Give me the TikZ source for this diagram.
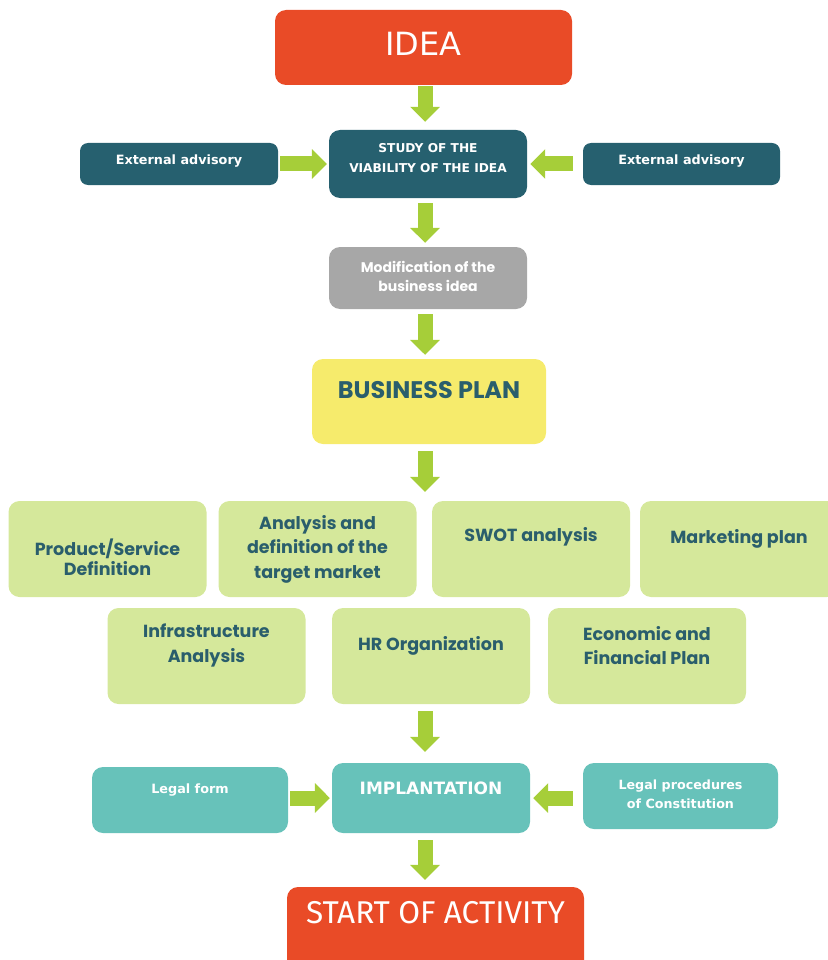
\documentclass[tikz,border=0pt]{standalone}
\usepackage{fontspec}
\setmainfont{Fira Sans}
\newfontfamily\rfont{Poppins}
\newfontfamily\dfont{DejaVu Sans}
\usetikzlibrary{arrows.meta}
\definecolor{cRed}{HTML}{E94B27}
\definecolor{cDark}{HTML}{26606F}
\definecolor{cGray}{HTML}{A7A7A7}
\definecolor{cYellow}{HTML}{F6EB6C}
\definecolor{cGreen}{HTML}{D5E89B}
\definecolor{cTeal}{HTML}{67C2BA}
\definecolor{cArrow}{HTML}{A6CE39}
\definecolor{cText}{HTML}{2A5E6C}
\begin{document}
\begin{tikzpicture}[x=1pt,y=-1pt]
\useasboundingbox (0,0) rectangle (827,960);
\tikzset{
  box/.style={rounded corners=11pt, inner sep=0pt},
  tx/.style={align=center, inner sep=0pt},
  wtxt/.style={tx, text=white, font=\dfont\bfseries\fontsize{12.8}{20}\selectfont},
  gtxt/.style={tx, text=cText, font=\rfont\bfseries\fontsize{17.5}{24.5}\selectfont},
  gbox/.style={box, fill=cGreen, minimum width=198pt, minimum height=96pt},
  barrow/.style={draw=cArrow, line width=15pt, -{Triangle[width=29pt,length=15pt]}, shorten <=5pt, shorten >=6pt},
}
\coordinate (ax) at (425,0);
% top
\node[box, fill=cRed, minimum width=297pt, minimum height=75pt,
  label={[tx, text=white, font=\dfont\fontsize{32}{34}\selectfont, yshift=3.5pt]center:IDEA}] (idea) at (423.5,47.5) {};
\node[box, fill=cDark, minimum width=198pt, minimum height=68pt,
  label={[wtxt, font=\dfont\bfseries\fontsize{12.2}{20}\selectfont, yshift=6pt]center:{STUDY OF THE\\VIABILITY OF THE IDEA}}] (study) at (428,164) {};
\node[box, fill=cDark, minimum width=198pt, minimum height=42pt, rounded corners=8pt,
  label={[wtxt, yshift=3pt]center:External advisory}] (ext1) at (179,164) {};
\node[box, fill=cDark, minimum width=197pt, minimum height=42pt, rounded corners=8pt,
  label={[wtxt, yshift=3pt]center:External advisory}] (ext2) at (681.5,164) {};
\node[box, fill=cGray, minimum width=198pt, minimum height=62pt,
  label={[tx, text=white, font=\rfont\bfseries\fontsize{14}{19}\selectfont, yshift=1.5pt]center:{Modification of the\\business idea}}] (modif) at (428,278) {};
\node[box, fill=cYellow, minimum width=234pt, minimum height=85pt,
  label={[tx, text=cText, font=\rfont\bfseries\fontsize{24}{26}\selectfont, yshift=11.5pt]center:BUSINESS PLAN}] (bp) at (429,401.5) {};
% business plan parts
\node[gbox, label={[gtxt, font=\rfont\bfseries\fontsize{17.5}{20}\selectfont, yshift=-8pt]center:{Product/Service\\Definition}}] (prod) at (107.5,549) {};
\node[gbox, label={[gtxt]center:{Analysis and\\definition of the\\target market}}] (anal) at (317.5,549) {};
\node[gbox, label={[gtxt, yshift=12pt]center:SWOT analysis}] (swot) at (531,549) {};
\node[gbox, label={[gtxt, yshift=10pt]center:Marketing plan}] (mkt) at (739,549) {};
\node[gbox, label={[gtxt, yshift=10.5pt]center:{Infrastructure\\Analysis}}] (infra) at (206.5,656) {};
\node[gbox, label={[gtxt, yshift=10pt]center:HR Organization}] (hr) at (431,656) {};
\node[gbox, label={[gtxt, yshift=10.5pt]center:{Economic and\\Financial Plan}}] (econ) at (647,656) {};
% implantation
\node[box, fill=cTeal, minimum width=196pt, minimum height=66pt,
  label={[wtxt, yshift=10pt]center:Legal form}] (lform) at (190,800) {};
\node[box, fill=cTeal, minimum width=198pt, minimum height=70pt,
  label={[tx, text=white, font=\dfont\bfseries\fontsize{17}{20}\selectfont, yshift=10pt]center:IMPLANTATION}] (impl) at (431,798) {};
\node[box, fill=cTeal, minimum width=195pt, minimum height=66pt,
  label={[wtxt, font=\dfont\bfseries\fontsize{12.7}{19}\selectfont, yshift=1.5pt]center:{Legal procedures\\of Constitution}}] (lproc) at (680.5,796) {};
\node[box, fill=cRed, minimum width=297pt, minimum height=88pt,
  label={[tx, text=white, font=\fontsize{31.5}{33}\selectfont, yshift=18pt]center:START OF ACTIVITY}] (start) at (435.5,931) {};
% connectors
\draw[barrow, shorten <=1pt, shorten >=8pt] (idea.south -| ax) -- (study.north -| ax);
\draw[barrow, shorten <=2pt, shorten >=2pt] (ext1.east) -- (ext1.east -| study.west);
\draw[barrow, shorten <=10pt, shorten >=3pt] (ext2.west) -- (ext2.west -| study.east);
\draw[barrow, shorten >=4pt] (study.south -| ax) -- (modif.north -| ax);
\draw[barrow, shorten >=4pt] (modif.south -| ax) -- (bp.north -| ax);
\draw[barrow, shorten <=7pt, shorten >=9pt] (bp.south -| ax) -- (anal.north -| ax);
\draw[barrow, shorten <=7pt, shorten >=11pt] (hr.south -| ax) -- (impl.north -| ax);
\draw[barrow, shorten <=2pt, shorten >=2pt] (lform.east |- impl.center) -- (impl.west);
\draw[barrow, shorten <=10pt, shorten >=3pt] (lproc.west |- impl.center) -- (impl.east);
\draw[barrow, shorten <=7pt, shorten >=7pt] (impl.south -| ax) -- (start.north -| ax);
\end{tikzpicture}
\end{document}
